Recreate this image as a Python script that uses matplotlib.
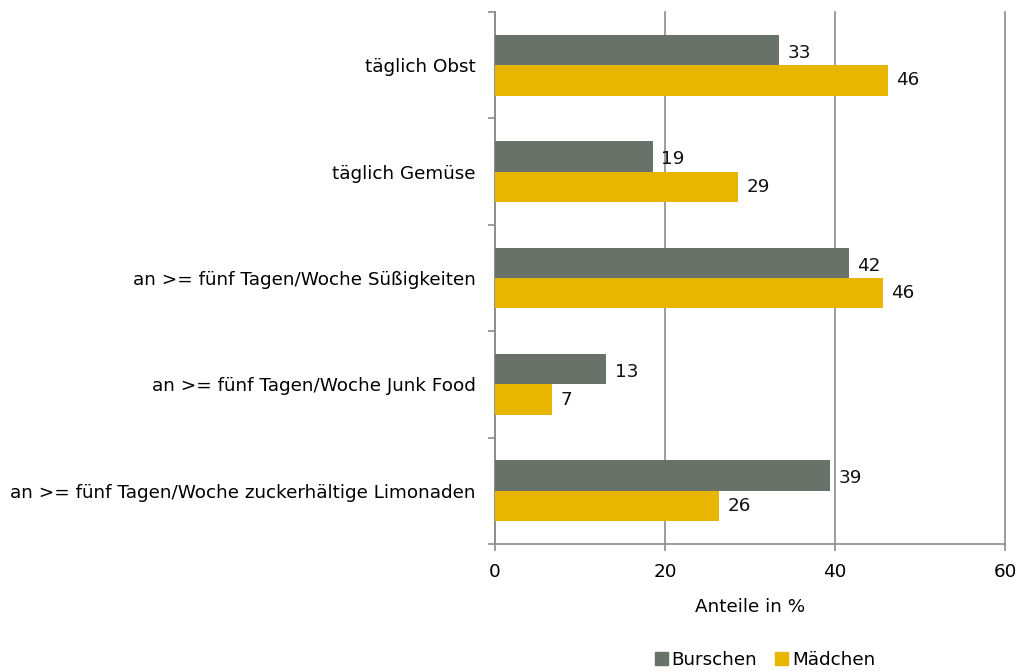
import matplotlib
matplotlib.use("Agg")
import matplotlib.pyplot as plt
from matplotlib.patches import Patch
import numpy as np

categories = [
    "täglich Obst",
    "täglich Gemüse",
    "an >= fünf Tagen/Woche Süßigkeiten",
    "an >= fünf Tagen/Woche Junk Food",
    "an >= fünf Tagen/Woche zuckerhältige Limonaden",
]
burschen = [33.4, 18.6, 41.6, 13.1, 39.4]
maedchen = [46.2, 28.6, 45.6, 6.7, 26.4]
series_names = ["Burschen", "Mädchen"]
xticks = [0, 20, 40, 60]

c_b = "#687268"
c_m = "#E8B500"
gray = "#8c8c8c"

fig = plt.figure(figsize=(10.2, 6.72), dpi=100)
ax = fig.add_axes([495/1020, 1 - 544/672, 510/1020, 532/672])

n = len(categories)
y = np.arange(n)
h = 0.285
ax.barh(y - h/2, burschen, height=h, color=c_b, zorder=3)
ax.barh(y + h/2, maedchen, height=h, color=c_m, zorder=3)

fs = 13.2
for yi, v in zip(y, burschen):
    ax.annotate(f"{v:.0f}", (v, yi - h/2), xytext=(6, -2), textcoords="offset points",
                va="center", ha="left", fontsize=fs, color="#111111")
for yi, v in zip(y, maedchen):
    ax.annotate(f"{v:.0f}", (v, yi + h/2), xytext=(6, 0), textcoords="offset points",
                va="center", ha="left", fontsize=fs, color="#111111")

ax.set_ylim(n - 0.5, -0.5)
ax.set_xlim(0, 60)
ax.set_xticks(xticks)
ax.set_xticklabels([str(t) for t in xticks], fontsize=fs)
ax.xaxis.grid(True, color=gray, linewidth=1.2, zorder=0)
for gl in ax.get_xgridlines():
    gl.set_clip_on(False)
ax.set_axisbelow(True)

ax.set_yticks(np.arange(-0.5, n, 1.0))
ax.set_yticklabels([])
ax.set_yticks(y, minor=True)
ax.set_yticklabels(categories, minor=True, fontsize=fs)
ax.tick_params(axis="y", which="minor", length=0, pad=14)
ax.tick_params(axis="y", which="major", length=5, color=gray, width=1.2)
ax.tick_params(axis="x", length=5, color=gray, width=1.2, pad=9)

for s in ["top", "right"]:
    ax.spines[s].set_visible(False)
for s in ["left", "bottom"]:
    ax.spines[s].set_color(gray)
    ax.spines[s].set_linewidth(1.2)

ax.set_xlabel("Anteile in %", fontsize=fs, labelpad=12)

handles = [Patch(color=c_b, label=series_names[0]), Patch(color=c_m, label=series_names[1])]
fig.legend(handles=handles, loc="center", bbox_to_anchor=(765/1020, 1 - 660/672), ncol=2,
           frameon=False, fontsize=fs, handlelength=0.7, handleheight=0.7,
           handletextpad=0.2, columnspacing=1.0, borderpad=0.1)

fig.savefig("out.png", dpi=100)
